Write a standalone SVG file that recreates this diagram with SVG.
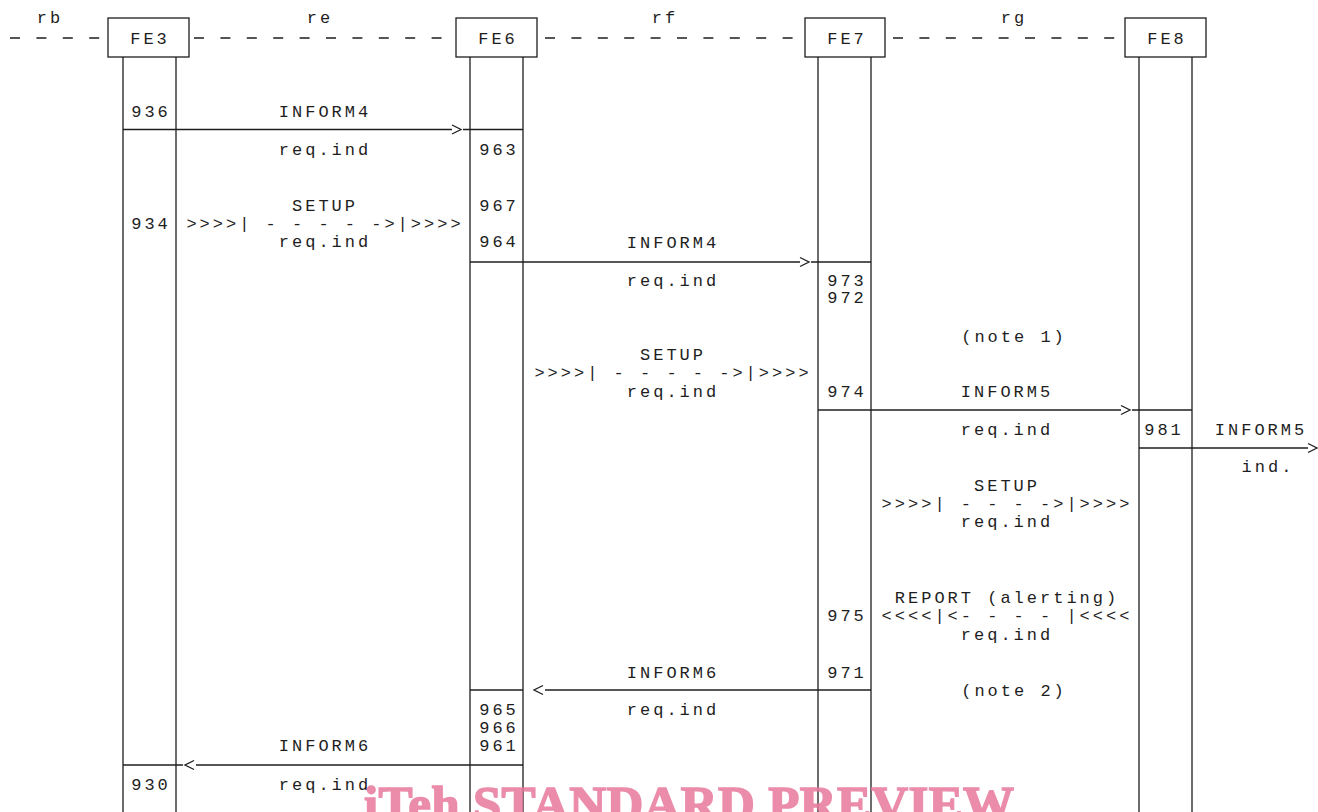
<svg xmlns="http://www.w3.org/2000/svg" width="1318" height="812" viewBox="0 0 1318 812">
<style>
text{font-family:"Liberation Mono","DejaVu Sans Mono",monospace;font-size:17px;letter-spacing:3px;fill:#1e1e1e;text-anchor:middle;white-space:pre}
.ln{stroke:#1e1e1e;stroke-width:1.3;fill:none}
.dash{stroke:#1e1e1e;stroke-width:1.3;stroke-dasharray:10 16.4;fill:none}
.box{fill:#fff;stroke:#1e1e1e;stroke-width:1.3}
text.wm{font-family:"Liberation Serif","DejaVu Serif",serif;font-weight:700;font-size:51px;letter-spacing:0;fill:#e8789c;stroke:#e8789c;stroke-width:1.6;opacity:0.85;text-anchor:start}
</style>
<rect width="1318" height="812" fill="#fff"/>
<g id="relations">
<line class="dash" x1="10" y1="38" x2="108" y2="38"/>
<line class="dash" x1="194" y1="38" x2="456" y2="38"/>
<line class="dash" x1="545" y1="38" x2="805" y2="38"/>
<line class="dash" x1="893" y1="38" x2="1125" y2="38"/>
<text x="50" y="23">rb</text>
<text x="320" y="23">re</text>
<text x="665" y="23">rf</text>
<text x="1014" y="23">rg</text>
</g>
<g id="FE3">
<rect class="box" x="108" y="18" width="81" height="39"/>
<text x="150" y="44">FE3</text>
<line class="ln" x1="123" y1="57" x2="123" y2="812"/>
<line class="ln" x1="176" y1="57" x2="176" y2="812"/>
</g>
<g id="FE6">
<rect class="box" x="456" y="18" width="81" height="39"/>
<text x="498" y="44">FE6</text>
<line class="ln" x1="470" y1="57" x2="470" y2="812"/>
<line class="ln" x1="523" y1="57" x2="523" y2="812"/>
</g>
<g id="FE7">
<rect class="box" x="805" y="18" width="80" height="39"/>
<text x="847" y="44">FE7</text>
<line class="ln" x1="818" y1="57" x2="818" y2="812"/>
<line class="ln" x1="871" y1="57" x2="871" y2="812"/>
</g>
<g id="FE8">
<rect class="box" x="1125" y="18" width="81" height="39"/>
<text x="1167" y="44">FE8</text>
<line class="ln" x1="1139" y1="57" x2="1139" y2="812"/>
<line class="ln" x1="1192" y1="57" x2="1192" y2="812"/>
</g>
<g id="connectors">
<line class="ln" x1="123" y1="129.5" x2="452" y2="129.5"/>
<polyline class="ln" points="452,125 461,129.5 452,134"/>
<line class="ln" x1="463" y1="129.5" x2="523" y2="129.5"/>
<line class="ln" x1="470" y1="262" x2="800" y2="262"/>
<polyline class="ln" points="800,257.5 809,262 800,266.5"/>
<line class="ln" x1="811" y1="262" x2="871" y2="262"/>
<line class="ln" x1="818" y1="410" x2="1121" y2="410"/>
<polyline class="ln" points="1121,405.5 1130,410 1121,414.5"/>
<line class="ln" x1="1132" y1="410" x2="1192" y2="410"/>
<line class="ln" x1="1139" y1="448" x2="1308" y2="448"/>
<polyline class="ln" points="1308,443.5 1317,448 1308,452.5"/>
<line class="ln" x1="545" y1="690" x2="871" y2="690"/>
<polyline class="ln" points="543,685.5 534,690 543,694.5"/>
<line class="ln" x1="470" y1="690" x2="523" y2="690"/>
<line class="ln" x1="196" y1="765" x2="523" y2="765"/>
<polyline class="ln" points="194,760.5 185,765 194,769.5"/>
<line class="ln" x1="123" y1="765" x2="183" y2="765"/>
</g>
<g id="labels">
<text x="151" y="117">936</text>
<text x="325" y="117">INFORM4</text>
<text x="325" y="155">req.ind</text>
<text x="499" y="155">963</text>
<text x="325" y="211">SETUP</text>
<text x="151" y="229">934</text>
<text x="325" y="229">&gt;&gt;&gt;&gt;| - - - - -&gt;|&gt;&gt;&gt;&gt;</text>
<text x="325" y="247">req.ind</text>
<text x="499" y="211">967</text>
<text x="499" y="247">964</text>
<text x="673" y="248">INFORM4</text>
<text x="673" y="286">req.ind</text>
<text x="847" y="286">973</text>
<text x="847" y="303">972</text>
<text x="1014" y="342">(note 1)</text>
<text x="673" y="360">SETUP</text>
<text x="673" y="378">&gt;&gt;&gt;&gt;| - - - - -&gt;|&gt;&gt;&gt;&gt;</text>
<text x="673" y="397">req.ind</text>
<text x="847" y="397">974</text>
<text x="1007" y="397">INFORM5</text>
<text x="1007" y="435">req.ind</text>
<text x="1164" y="435">981</text>
<text x="1261" y="435">INFORM5</text>
<text x="1268" y="472">ind.</text>
<text x="1007" y="491">SETUP</text>
<text x="1007" y="509">&gt;&gt;&gt;&gt;| - - - -&gt;|&gt;&gt;&gt;&gt;</text>
<text x="1007" y="527">req.ind</text>
<text x="1007" y="603">REPORT (alerting)</text>
<text x="1007" y="621">&lt;&lt;&lt;&lt;|&lt;- - - - |&lt;&lt;&lt;&lt;</text>
<text x="1007" y="640">req.ind</text>
<text x="847" y="621">975</text>
<text x="847" y="678">971</text>
<text x="673" y="678">INFORM6</text>
<text x="1014" y="696">(note 2)</text>
<text x="673" y="715">req.ind</text>
<text x="499" y="715">965</text>
<text x="499" y="733">966</text>
<text x="499" y="751">961</text>
<text x="325" y="751">INFORM6</text>
<text x="151" y="790">930</text>
<text x="325" y="790">req.ind</text>
</g>
<text class="wm" x="364" y="821" textLength="650" lengthAdjust="spacing">iTeh STANDARD PREVIEW</text>
</svg>
